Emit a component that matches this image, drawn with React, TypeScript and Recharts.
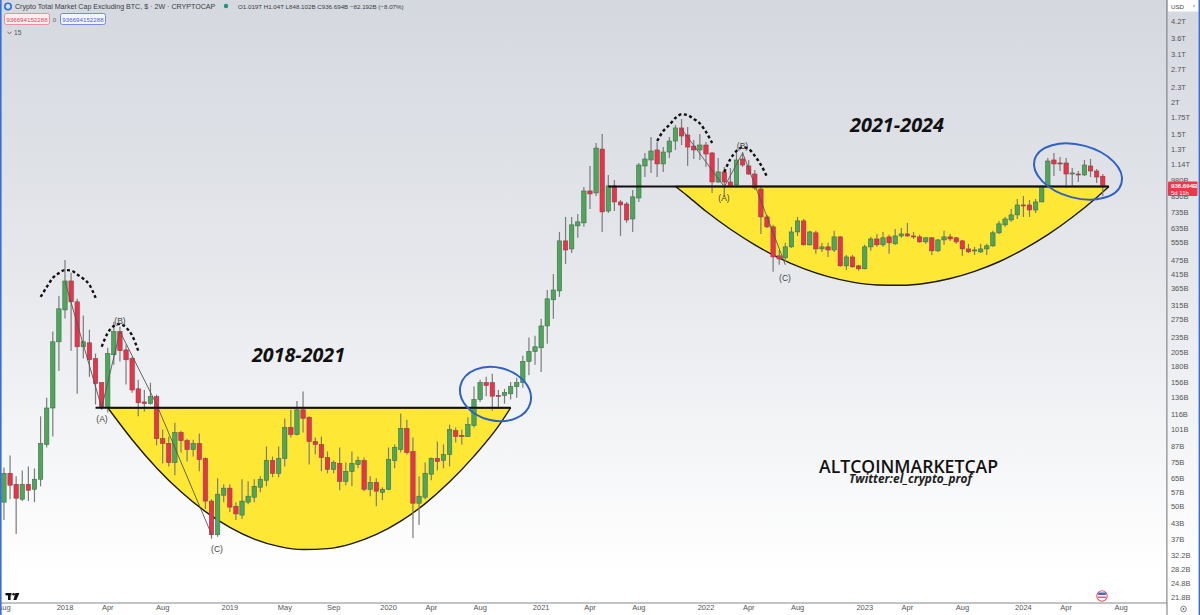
import React from "react";
import { ComposedChart, Bar, Line, Area, XAxis, YAxis, ReferenceLine } from "recharts";

// Prices in billions of USD, one row per 2-week bar
const opens = [
  52.1,67.8,61.3,53.5,61.3,58.6,64.2,88.2,123,225,
  301,392,324,215,223,193,155,123,200,247,
  209,193,146.5,130,128,136.5,93,89,74.8,98.3,
  91.3,84.2,89,77.6,52.6,38.7,55.5,59.2,50.2,46.3,
  52.1,54.5,59.7,63.6,76.2,67.8,77.6,102.9,96.5,121,
  113,90.6,88.2,78.3,70.3,74.2,63,69,73.5,76.2,
  58.6,62.4,57,58.6,76.2,84.2,102,82.7,51.6,54.5,
  67.2,77.6,76.2,80.5,100,95.7,94.8,104.8,133,155,
  155,138,138,140,149.5,155,188,206,213,260,
  330,358,565,525,648,666,891,875,1306,742,
  933,806,791,690,836,1119,1182,1295,1140,1271,
  1405,1583,1485,1342,1295,1355,1260,967,1060,967,
  941,1193,1119,1040,907,703,642,493,484,535,
  613,678,545,608,525,535,520,586,450,488,
  450,438,535,575,545,586,550,591,602,591,
  586,560,581,516,570,586,581,565,525,516,
  511,525,540,608,654,684,716,784,784,749,
  806,933,1182,1150,1150,1040,1040,1031,1119,1069,
  1019,
];
const highs = [
  71.5,79.8,66,69.6,72.2,70.9,114,135,247,342,
  475,422,333,286,251,202,156,213,270,258,
  219,196.5,159,145,155,139,101,94.8,107.6,100,
  93,92,97.4,78.3,53.5,64.8,61.3,61.3,52.1,64.2,
  63,64.2,66,86.6,79,86.6,111.7,121,131,143,
  114,94,94.8,82.7,76.2,85.8,74.8,82.7,79,78.3,
  66,64.8,59.7,85.8,88.2,117,110.6,94,66,74.8,
  78.3,90.6,88.2,105.7,102.9,101,113,149.5,159,163.5,
  168,145,146.5,156,162,198,234,238,277.5,361,
  418,613,703,703,722,924,1119,1380,1498,1031,
  985,820,806,899,1150,1260,1458,1392,1330,1458,
  1627,1717,1597,1418,1498,1392,1271,1204,1109,1099,
  1260,1271,1182,1079,924,716,654,520,555,642,
  703,690,619,619,555,555,619,591,497,497,
  454,545,586,602,613,597,630,636,666,613,
  597,586,586,575,619,602,586,570,550,535,
  550,550,619,678,703,756,828,851,820,828,
  941,1204,1260,1215,1204,1099,1069,1182,1193,1089,
  1040,
];
const lows = [
  44.3,53.5,39,52.6,52.6,52.1,60.2,85.8,94.8,172.5,
  278,207.5,140,193,163.5,127,121,118,182.5,188,
  152.5,141.5,114,119,127,87.4,74.2,72.2,66.6,82,
  75.5,79,69,48.9,37.3,38,52.1,47.6,44.3,44.7,
  51.1,52.1,57,60.2,65.4,65.4,72.2,94,95.7,98.3,
  73.5,80.5,69,67.8,67.8,58.1,60.8,60.2,70.9,57.6,
  55,50.2,53,58.1,70.9,82,80.5,37.6,42.3,53.5,
  63.6,69.6,70.9,72.2,89.8,88.2,94.8,102.9,130,137,
  120,123,128,133,135,148,166,182.5,171,221,
  277.5,339,458,506,581,642,756,851,613,729,
  742,591,666,613,806,1012,1050,1012,1060,1204,
  1295,1355,1119,1193,1182,1109,875,958,844,924,
  933,1109,1031,899,602,636,426,454,466,530,
  591,542,540,502,511,488,511,446,433,442,
  430,436,516,535,535,502,545,581,586,575,
  555,550,497,511,545,565,550,493,506,497,
  506,497,535,602,642,672,690,703,703,729,
  803,924,1022,1069,916,933,967,1022,1012,958,
  848,
];
const closes = [
  67.8,60.8,54,61.3,58.1,64.2,89,123,225,304,
  392,324,215,225,191,154,123,202,247,207.5,
  191,145,129,128,136.5,93,89,74.8,98.3,91.3,
  84.2,89,76.9,52.6,38.7,56,59.2,49.8,46.8,52.6,
  55,60.2,64.2,76.2,67.8,77.6,102.9,96.5,121,112,
  90.6,88.2,78.3,70.3,74.8,63,69,74.2,76.2,58.6,
  62.4,57.6,58.6,76.9,85.8,102,82,51.6,55,67.8,
  77.6,75.5,80.5,101,94.8,95,105.7,133,155,151,
  137,137.5,141.5,149.5,155,188,206,215,260,333,
  361,565,520,654,672,891,867,1318,736,933,
  806,784,684,844,1129,1193,1283,1140,1271,1405,
  1583,1471,1330,1295,1355,1248,967,1060,967,933,
  1182,1129,1040,916,703,642,488,479,535,613,
  678,545,613,525,535,520,586,450,488,446,
  438,535,575,545,581,555,591,602,591,586,
  560,581,516,570,586,575,560,525,511,520,
  525,540,608,660,690,716,784,777,749,806,
  924,1171,1140,1140,1040,1050,1031,1129,1069,1012,
  936.694,
];

const priceTicks = [
  4200,3600,3100,2700,2300,2000,1750,1500,1300,1140,980,850,735,635,555,475,415,365,315,
  275,235,205,180,156,136,116,101,87,75,65,57,50,43,37,32.2,28.2,24.8,21.8,
];
const timeTickBars = [0,10,17,26,37,46,54,63,70,78,88,96,104,115,122,130,141,148,157,167,174,183];
const timeTickLabels = ["Aug","2018","Apr","Aug","2019","May","Sep","2020","Apr","Aug","2021","Apr","Aug","2022","Apr","Aug","2023","Apr","Aug","2024","Apr","Aug"];

const cup1Bars = [17,19,21,25,29,33,37,41,45,49,53,57,61,65,69,73,77,81,83];
const cup1Low = [123.3,106.3,92.1,71.2,57.3,47.8,41.4,37.2,34.8,33.8,34.1,35.7,38.8,43.8,51.4,62.7,79.3,104.2,123.3];
const cup1Rim = 123.3;
const cup2Bars = [110,112,115,119,123,127,131,135,139,143,147,151,155,159,163,167,171,175,179,181];
const cup2Low = [928,850,740,628,545,483,439,408,388,378,377,384,401,428,467,523,598,701,840,928];
const cup2Rim = 928;

const dome1Bars = [6,7,8,9,10,11,12,13,14,15];
const dome1 = [339,371,403,421,433,431,416,400,378,336];
const dome2Bars = [16,17,18,19,20,21,22];
const dome2 = [215,244,260,265,256,238,207];
const dome3Bars = [107,108,109,110,111,112,113,114,115,116];
const dome3 = [1405,1540,1627,1734,1795,1778,1717,1648,1526,1380];
const dome4Bars = [118,119,120,121,122,123,124,125];
const dome4 = [1060,1193,1283,1326,1307,1226,1130,1013];
const wave1Bars = [10,16,19,25,34];
const wave1 = [389,123.3,247,127,38.8];
const wave2Bars = [111,118,121,128];
const wave2 = [1568,925,1260,454];

const BAR_ROWS = 191;
const lookup = (bars: number[], vals: number[], i: number) => {
  const k = bars.indexOf(i);
  return k < 0 ? null : vals[k];
};
const rows = Array.from({ length: BAR_ROWS }, (_, i) => {
  const c1 = lookup(cup1Bars, cup1Low, i);
  const c2 = lookup(cup2Bars, cup2Low, i);
  return {
    i,
    open: i < opens.length ? opens[i] : null,
    close: i < closes.length ? closes[i] : null,
    high: i < highs.length ? highs[i] : null,
    low: i < lows.length ? lows[i] : null,
    range: i < highs.length ? [lows[i], highs[i]] : null,
    cup1: c1 == null ? null : [c1, cup1Rim],
    cup2: c2 == null ? null : [c2, cup2Rim],
    dome1: lookup(dome1Bars, dome1, i),
    dome2: lookup(dome2Bars, dome2, i),
    dome3: lookup(dome3Bars, dome3, i),
    dome4: lookup(dome4Bars, dome4, i),
    wave1: lookup(wave1Bars, wave1, i),
    wave2: lookup(wave2Bars, wave2, i),
  };
});

const GREEN = "#4fa65b";
const GREEN_EDGE = "#3f6f4a";
const RED = "#e8344a";
const RED_EDGE = "#8e3f49";
const WICK = "#7b7b7b";
const FONT = '"Liberation Sans", Arial, sans-serif';
const DISPLAY = '"Open Sans", "Noto Sans", sans-serif';

const Candle = (props: any) => {
  const { x, y, width, height, payload } = props;
  if (!payload || payload.open == null) return null;
  const top = Math.min(y, y + height);
  const h = Math.abs(height);
  const { open, close, high, low } = payload;
  const span = Math.log(high) - Math.log(low) || 1;
  const at = (p: number) => top + (h * (Math.log(high) - Math.log(p))) / span;
  const cx = x + width / 2;
  const up = close >= open;
  const yTop = at(Math.max(open, close));
  const yBot = at(Math.min(open, close));
  const bw = 4.4;
  return (
    <g>
      <line x1={cx} x2={cx} y1={top} y2={top + h} stroke={WICK} strokeWidth={1.2} />
      <rect
        x={cx - bw / 2}
        y={yTop}
        width={bw}
        height={Math.max(yBot - yTop, 1)}
        fill={up ? GREEN : RED}
        stroke={up ? GREEN_EDGE : RED_EDGE}
        strokeWidth={0.6}
      />
    </g>
  );
};

const fmtPrice = (v: number) => (v >= 1000 ? `${+(v / 1000).toFixed(2)}T` : `${v}B`);
const fmtTime = (v: number) => {
  const k = timeTickBars.indexOf(v);
  return k < 0 ? "" : timeTickLabels[k];
};

const domeLine = (key: string) => (
  <Line
    key={key}
    dataKey={key}
    type="monotone"
    stroke="#111"
    strokeWidth={2.4}
    strokeDasharray="3 2.6"
    dot={false}
    activeDot={false}
    legendType="none"
    isAnimationActive={false}
  />
);
const waveLine = (key: string) => (
  <Line
    key={key}
    dataKey={key}
    type="linear"
    connectNulls
    stroke="#555"
    strokeWidth={0.9}
    dot={false}
    activeDot={false}
    legendType="none"
    isAnimationActive={false}
  />
);
const cupArea = (key: string) => (
  <Area
    key={key}
    dataKey={key}
    type="monotone"
    connectNulls
    stroke="#1c1a08"
    strokeWidth={1.4}
    fill="#ffe835"
    fillOpacity={1}
    dot={false}
    activeDot={false}
    legendType="none"
    isAnimationActive={false}
  />
);

export default function App() {
  return (
    <div
      style={{
        position: "absolute",
        left: 0,
        top: 0,
        width: 1200,
        height: 615,
        overflow: "hidden",
        background: "linear-gradient(180deg,#d5d8df 0%,#e6e8ec 45%,#ffffff 93%)",
      }}
    >
      <ComposedChart
        width={1200}
        height={615}
        data={rows}
        margin={{ top: 0, right: 0, bottom: 0, left: 0.95 }}
        barCategoryGap={0}
      >
        <XAxis
          dataKey="i"
          type="category"
          height={12}
          ticks={timeTickBars}
          interval={0}
          tickFormatter={fmtTime}
          tickSize={0}
          tickMargin={2}
          tick={{ fontSize: 7.5, fill: "#555", fontFamily: FONT }}
          axisLine={{ stroke: "#85888f", strokeWidth: 1 }}
          tickLine={false}
        />
        <YAxis
          orientation="right"
          width={33.1}
          scale="log"
          domain={[20.76, 5087]}
          allowDataOverflow
          ticks={priceTicks}
          interval={0}
          tickFormatter={fmtPrice}
          tickSize={0}
          tickMargin={4}
          tick={{ fontSize: 7.5, fill: "#555", fontFamily: FONT }}
          axisLine={{ stroke: "#6f7279", strokeWidth: 1 }}
          tickLine={false}
        />
        {cupArea("cup1")}
        {cupArea("cup2")}
        <Bar dataKey="range" shape={Candle} isAnimationActive={false} legendType="none" />
        {waveLine("wave1")}
        {waveLine("wave2")}
        {domeLine("dome1")}
        {domeLine("dome2")}
        {domeLine("dome3")}
        {domeLine("dome4")}
        <ReferenceLine
          segment={[{ x: 15, y: cup1Rim }, { x: 83, y: cup1Rim }]}
          stroke="#111"
          strokeWidth={2}
        />
        <ReferenceLine
          segment={[{ x: 99, y: cup2Rim }, { x: 181, y: cup2Rim }]}
          stroke="#111"
          strokeWidth={2}
        />
      </ComposedChart>

      <svg
        width={1200}
        height={615}
        style={{ position: "absolute", left: 0, top: 0, pointerEvents: "none" }}
        fontFamily={FONT}
      >
        {/* drawn ellipses */}
        <ellipse cx={495.5} cy={394} rx={36} ry={26.5} transform="rotate(14 495.5 394)" fill="none" stroke="#2f62c6" strokeWidth={2} />
        <ellipse cx={1078} cy={171.5} rx={45} ry={26.5} transform="rotate(15 1078 171.5)" fill="none" stroke="#2f62c6" strokeWidth={2} />

        {/* wave labels */}
        <g fontSize={8.5} fill="#444" textAnchor="middle">
          <text x={102} y={422}>(A)</text>
          <text x={120} y={324}>(B)</text>
          <text x={217} y={552}>(C)</text>
          <text x={724} y={201}>(A)</text>
          <text x={742.5} y={149}>(B)</text>
          <text x={785} y={281}>(C)</text>
        </g>

        {/* big labels */}
        <g fontFamily={DISPLAY} fontWeight={700} fontStyle="italic" fill="#111" fontSize={19.5}>
          <text x={252} y={361.7} textLength={93} lengthAdjust="spacingAndGlyphs">2018-2021</text>
          <text x={850} y={132.3} textLength={94} lengthAdjust="spacingAndGlyphs">2021-2024</text>
        </g>
        <text x={819} y={472.7} fontFamily={DISPLAY} fontSize={17.8} fontWeight={600} fill="#111" textLength={179} lengthAdjust="spacingAndGlyphs">ALTCOINMARKETCAP</text>
        <text x={849} y={482.6} fontFamily={DISPLAY} fontSize={11.5} fontWeight={700} fontStyle="italic" fill="#222" textLength={123} lengthAdjust="spacingAndGlyphs">Twitter:el_crypto_prof</text>

        {/* legend header */}
        <circle cx={8} cy={6.5} r={3.2} fill="#cfe0f7" stroke="#2f6fd6" strokeWidth={1.6} />
        <text x={15} y={9} fontSize={7.1} fill="#3a3d44">Crypto Total Market Cap Excluding BTC, $ · 2W · CRYPTOCAP</text>
        <circle cx={226} cy={6} r={2.2} fill="#159a7a" />
        <text x={238} y={9} fontSize={6.2} fill="#3a3d44">O1.019T H1.04T L848.102B C936.694B −82.192B (−8.07%)</text>
        <rect x={4.5} y={13.5} width={45} height={11} rx={2} fill="#fbeef0" stroke="#e77b86" strokeWidth={0.8} />
        <text x={27} y={21.5} fontSize={6.2} fill="#d9475a" textAnchor="middle">936694152288</text>
        <text x={54.5} y={21.5} fontSize={6.2} fill="#666" textAnchor="middle">0</text>
        <rect x={60.5} y={13.5} width={45} height={11} rx={2} fill="#f3f5fd" stroke="#5a72e0" strokeWidth={0.8} />
        <text x={83} y={21.5} fontSize={6.2} fill="#4a63d8" textAnchor="middle">936694152288</text>
        <path d="M7.5 32 L9.5 33.6 L11.5 32" fill="none" stroke="#555" strokeWidth={0.9} />
        <text x={14} y={35} fontSize={6.6} fill="#555">15</text>

        {/* right scale furniture */}
        <rect x={1168} y={0} width={30.5} height={11.5} fill="#ffffff" />
        <text x={1171} y={8.5} fontSize={6.2} fill="#444">USD</text>
        <path d="M1193 5.5 L1195 5.5 L1194 7 Z" fill="#555" />
        <rect x={1168} y={181.5} width={29.5} height={14.5} rx={1} fill="#f2364a" />
        <text x={1171} y={188} fontSize={6.1} fontWeight={700} fill="#fff">936.694B</text>
        <text x={1171} y={194.6} fontSize={6} fill="#fff">5d 11h</text>
        <line x1={1167} x2={1167} y1={603} y2={615} stroke="#6f7279" strokeWidth={1} />
        <circle cx={1183.5} cy={609} r={2.8} fill="none" stroke="#666" strokeWidth={0.8} />
        <circle cx={1183.5} cy={609} r={0.9} fill="#666" />

        {/* logo and flag */}
        <g fill="#111">
          <rect x={5.5} y={593} width={6} height={2.4} />
          <rect x={8} y={593} width={2.6} height={7} />
          <circle cx={13.6} cy={594.3} r={1.3} />
          <path d="M15.4 593 L19.4 593 L16.4 600 L13.4 600 Z" />
        </g>
        <g>
          <circle cx={1102} cy={596} r={5.2} fill="#fff" stroke="#e8526a" strokeWidth={1.1} />
          <rect x={1098.2} y={592.5} width={7.6} height={2.6} fill="#3b6fb8" />
          <rect x={1098} y={596.6} width={8} height={1.3} fill="#e04a5e" />
        </g>

        {/* window edge */}
        <rect x={0} y={0} width={1.6} height={615} fill="#3a6ed6" />
        <rect x={1198.6} y={0} width={1.4} height={615} fill="#3a6ed6" />
      </svg>
    </div>
  );
}
